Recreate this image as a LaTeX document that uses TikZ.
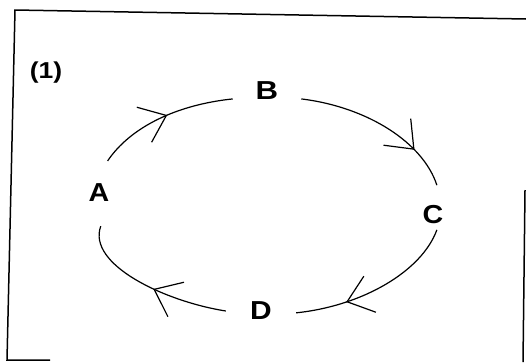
\documentclass[tikz,border=0pt]{standalone}
\usepackage{fontspec}
\setmainfont{Liberation Sans}
\usetikzlibrary{arrows.meta,decorations.markings}
\tikzset{
  frame/.style={line width=1.5pt, black},
  lbl/.style={circle, inner sep=0pt, font=\bfseries\fontsize{26}{28}\selectfont},
  conn/.style={line width=1.2pt, black},
  mid arrow/.style={postaction={decorate}, decoration={markings,
     mark=at position #1 with {\arrow{Straight Barb[length=24pt, width=38pt, line width=1.2pt]}}}}
}
\begin{document}
\begin{tikzpicture}[x=1pt,y=-1pt]
\useasboundingbox (0,0) rectangle (526,362);
% frame (partial, as scanned)
\coordinate (tl) at (15,10);
\coordinate (tr) at (526,19);
\coordinate (bl) at (7,360);
\coordinate (bb) at (50,360);
\coordinate (rt) at (525,190);
\coordinate (rb) at (523,362);
\draw[frame] (tr) -- (tl) -- (bl) -- (bb);
\draw[frame] (rt) -- (rb);
% labels
\node[font=\bfseries\fontsize{23}{26}\selectfont] (n1) at (46,73) {\scalebox{1.15}[1]{(1)}};
\node[lbl, minimum size=66pt] (A) at (99,193) {\scalebox{1.1}[1]{A}};
\node[lbl, minimum size=70pt] (B) at (267,91) {\scalebox{1.2}[1]{B}};
\node[lbl, minimum size=44pt] (C) at (433,215) {\scalebox{1.1}[1]{C}};
\node[lbl, minimum size=70pt] (D) at (261,311) {\scalebox{1.15}[1]{D}};
% connectors
\draw[conn, mid arrow=0.53] (A.75) to[out=56, in=186, out looseness=0.74, in looseness=1.05] (B.193);
\draw[conn, mid arrow=0.75] (B.-13) to[out=-7, in=108, out looseness=1.08, in looseness=0.7] ([yshift=8pt]C.80);
\draw[conn, mid arrow=0.7] ([yshift=7pt]C.-80) to[out=-110, in=6, out looseness=0.69, in looseness=1.05] (D.-3);
\draw[conn, mid arrow=0.46] (D.180) to[out=171, in=-110, out looseness=1.05, in looseness=0.69] (A.-87);
\end{tikzpicture}
\end{document}
